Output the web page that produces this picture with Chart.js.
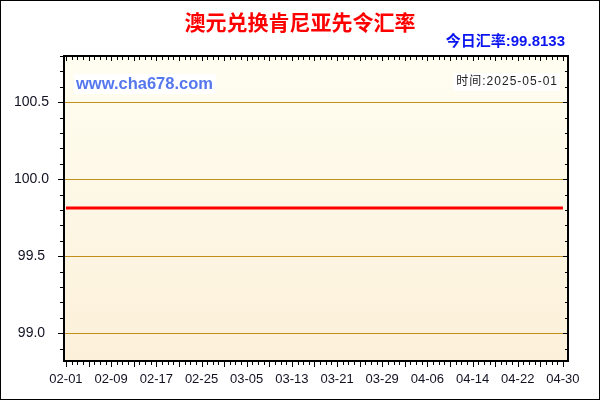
<!DOCTYPE html>
<html><head><meta charset="utf-8">
<script src="https://cdn.jsdelivr.net/npm/chart.js@4"></script>
<style>html,body{margin:0;padding:0;background:#fff}#wrap{width:600px;height:400px}</style>
</head><body><div id="wrap"><canvas id="c" width="600" height="400"></canvas></div>
<script>
const dates = ['02-01','02-02','02-03','02-04','02-05','02-06','02-07','02-08','02-09','02-10','02-11','02-12','02-13','02-14','02-15','02-16','02-17','02-18','02-19','02-20','02-21','02-22','02-23','02-24','02-25','02-26','02-27','02-28',
'03-01','03-02','03-03','03-04','03-05','03-06','03-07','03-08','03-09','03-10','03-11','03-12','03-13','03-14','03-15','03-16','03-17','03-18','03-19','03-20','03-21','03-22','03-23','03-24','03-25','03-26','03-27','03-28','03-29','03-30','03-31',
'04-01','04-02','04-03','04-04','04-05','04-06','04-07','04-08','04-09','04-10','04-11','04-12','04-13','04-14','04-15','04-16','04-17','04-18','04-19','04-20','04-21','04-22','04-23','04-24','04-25','04-26','04-27','04-28','04-29','04-30'];
const rates = [99.8133,99.8133,99.8133,99.8133,99.8133,99.8133,99.8133,99.8133,99.8133,99.8133,99.8133,99.8133,99.8133,99.8133,99.8133,99.8133,99.8133,99.8133,99.8133,99.8133,99.8133,99.8133,99.8133,99.8133,99.8133,99.8133,99.8133,99.8133,
99.8133,99.8133,99.8133,99.8133,99.8133,99.8133,99.8133,99.8133,99.8133,99.8133,99.8133,99.8133,99.8133,99.8133,99.8133,99.8133,99.8133,99.8133,99.8133,99.8133,99.8133,99.8133,99.8133,99.8133,99.8133,99.8133,99.8133,99.8133,99.8133,99.8133,99.8133,
99.8133,99.8133,99.8133,99.8133,99.8133,99.8133,99.8133,99.8133,99.8133,99.8133,99.8133,99.8133,99.8133,99.8133,99.8133,99.8133,99.8133,99.8133,99.8133,99.8133,99.8133,99.8133,99.8133,99.8133,99.8133,99.8133,99.8133,99.8133,99.8133,99.8133];
const xTickLabels = ['02-01','02-09','02-17','02-25','03-05','03-13','03-21','03-29','04-06','04-14','04-22','04-30'];
const yTicks = [99.0, 99.5, 100.0, 100.5];
const titleText = '澳元兑换肯尼亚先令汇率';
const rateText = '今日汇率:99.8133';
const siteText = 'www.cha678.com';
const timeText = '时间:2025-05-01';

const decor = {
  id: 'decor',
  beforeDraw(chart) {
    const {ctx, chartArea: a} = chart;
    ctx.save();
    const g = ctx.createLinearGradient(0, a.top, 0, a.bottom);
    g.addColorStop(0, '#FFFEF1');
    g.addColorStop(1, '#FCF0D9');
    ctx.fillStyle = g;
    ctx.fillRect(a.left, a.top, a.right - a.left, a.bottom - a.top);
    ctx.restore();
  },
  afterDraw(chart) {
    const {ctx, chartArea: a, scales} = chart;
    const xs = scales.x, ys = scales.y;
    ctx.save();
    // titles
    ctx.textBaseline = 'middle';
    ctx.fillStyle = '#FF0000';
    ctx.font = 'bold 21px "Noto Sans CJK SC"';
    ctx.textAlign = 'center';
    ctx.fillText(titleText, 300, 22);
    ctx.fillStyle = '#0A14F0';
    ctx.font = 'bold 15px "Liberation Sans", "Noto Sans CJK SC"';
    ctx.textAlign = 'right';
    ctx.fillText(rateText, 565, 42);
    // watermark
    ctx.font = 'bold 16.5px "Liberation Sans"';
    let w = ctx.measureText(siteText).width;
    ctx.fillStyle = '#FFFFFF';
    ctx.fillRect(74, 74, w + 5, 20);
    ctx.fillStyle = '#5577EE';
    ctx.textAlign = 'left';
    ctx.fillText(siteText, 76, 84.5);
    ctx.font = '12px "Liberation Sans", "Noto Sans CJK SC"';
    ctx.letterSpacing = '1px';
    w = ctx.measureText(timeText).width;
    ctx.fillStyle = '#FFFFFF';
    ctx.fillRect(557 - w - 2, 73, w + 5, 18);
    ctx.fillStyle = '#222222';
    ctx.textAlign = 'right';
    ctx.fillText(timeText, 558, 82);
    ctx.letterSpacing = '0px';
    // frame
    ctx.strokeStyle = '#000';
    ctx.lineWidth = 2;
    ctx.strokeRect(a.left, a.top, a.right - a.left, a.bottom - a.top);
    // ticks
    ctx.lineWidth = 1;
    ctx.beginPath();
    for (let i = 0; i < dates.length; i++) {
      const x = Math.round(xs.getPixelForValue(i)) + 0.5;
      const major = i % 4 === 0;
      ctx.moveTo(x, a.bottom); ctx.lineTo(x, a.bottom + (major ? 6 : 4));
      ctx.moveTo(x, a.top); ctx.lineTo(x, a.top + (major ? 5 : 4));
    }
    for (let k = 0; k <= 20; k++) {
      const v = Math.round((98.8 + k * 0.1) * 10) / 10;
      if (v < ys.min || v > ys.max) continue;
      const y = Math.round(ys.getPixelForValue(v)) + 0.5;
      const major = Math.abs(v * 2 - Math.round(v * 2)) < 1e-6;
      ctx.moveTo(a.left, y); ctx.lineTo(a.left - (major ? 6 : 4), y);
      ctx.moveTo(a.right, y); ctx.lineTo(a.right - (major ? 5 : 3), y);
    }
    ctx.stroke();
    // outer border
    ctx.lineWidth = 1;
    ctx.strokeRect(0.5, 0.5, 599, 399);
    ctx.restore();
  }
};

new Chart(document.getElementById('c'), {
  type: 'line',
  data: {
    datasets: [{
      data: rates.map((v, i) => ({x: i, y: v})),
      borderColor: '#FF0000',
      borderWidth: 3,
      pointRadius: 0,
      tension: 0,
      fill: false
    }]
  },
  options: {
    responsive: false,
    animation: false,
    devicePixelRatio: 1,
    layout: {padding: {left: 0, top: 56, right: 32, bottom: 0}},
    plugins: {legend: {display: false}, tooltip: {enabled: false}, title: {display: false}},
    scales: {
      x: {
        type: 'linear',
        min: -0.35,
        max: 88.9,
        afterFit: s => { s.height = 39; },
        afterBuildTicks: s => { s.ticks = xTickLabels.map(l => ({value: dates.indexOf(l)})); },
        grid: {display: false, drawTicks: false, tickLength: 0},
        border: {display: false},
        ticks: {
          autoSkip: false, maxRotation: 0, padding: 11,
          color: '#111122',
          font: {family: '"Liberation Sans"', size: 13},
          callback: v => dates[v]
        }
      },
      y: {
        min: 98.82,
        max: 100.8,
        afterFit: s => { s.width = 64; },
        afterBuildTicks: s => { s.ticks = yTicks.map(v => ({value: v})); },
        grid: {color: '#C0901A', lineWidth: 1, drawTicks: false, tickLength: 0},
        border: {display: false},
        ticks: {
          crossAlign: 'center', padding: 15,
          color: '#111122',
          font: {family: '"Liberation Sans"', size: 14},
          callback: v => v.toFixed(1)
        }
      }
    }
  },
  plugins: [decor]
});
</script></body></html>
